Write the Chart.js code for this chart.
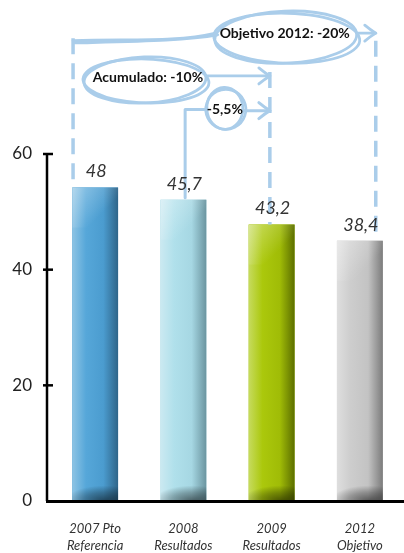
<!DOCTYPE html>
<html>
<head>
<meta charset="utf-8">
<script src="https://cdn.jsdelivr.net/npm/chart.js@4.4.1/dist/chart.umd.min.js"></script>
<style>
  body { margin: 0; background: #fff; }
</style>
</head>
<body>
<canvas id="myChart" width="404" height="553"></canvas>
<script>
// data
const categories = [['2007 Pto', 'Referencia'], ['2008', 'Resultados'], ['2009', 'Resultados'], ['2012', 'Objetivo']];
const barHeights = [54.2, 52.1, 47.8, 45.0];      // bar tops as drawn (not to scale with labels)
const valueLabels = ['48', '45,7', '43,2', '38,4'];
const yTicks = [0, 20, 40, 60];
const calloutTexts = ['Objetivo 2012: -20%', 'Acumulado: -10%', '-5,5%'];

// left, light, mid, dark edge
const barShades = [
  ['#8ec4e4', '#56a7d9', '#4b9ccf', '#2f6589'],
  ['#cbe9f1', '#b0e0eb', '#a6d7e3', '#6b95a0'],
  ['#c6db5e', '#abc80c', '#a0bc06', '#5c6f00'],
  ['#dedede', '#cdcdcd', '#c3c3c3', '#7c7c7c']
];
const sketchBlue = '#aacdea';

function dashedLine(ctx, x, y1, y2) {
  ctx.save();
  ctx.setLineDash([16, 9]);
  ctx.lineCap = 'butt';
  ctx.lineWidth = 3.5;
  ctx.beginPath();
  ctx.moveTo(x, y1);
  ctx.lineTo(x, y2);
  ctx.stroke();
  ctx.restore();
}

function arrowHead(ctx, x, y) {
  ctx.beginPath();
  ctx.moveTo(x - 11, y - 8);
  ctx.quadraticCurveTo(x - 5, y - 3, x, y);
  ctx.quadraticCurveTo(x - 5, y + 3, x - 11, y + 8);
  ctx.stroke();
}

// hand drawn look: two loose passes
function sketchEllipse(ctx, cx, cy, rx, ry) {
  ctx.beginPath();
  ctx.ellipse(cx, cy, rx, ry, -0.04, 0, Math.PI * 2);
  ctx.stroke();
  ctx.beginPath();
  ctx.ellipse(cx + 1, cy + 1, rx + 2, ry - 1, 0.03, 0.3, Math.PI * 2.15);
  ctx.stroke();
}

const barStyle = {
  id: 'barStyle',
  afterDatasetsDraw(chart) {
    const ctx = chart.ctx;
    const bars = chart.getDatasetMeta(0).data;
    bars.forEach((el, i) => {
      const l = el.x - el.width / 2, r = el.x + el.width / 2, t = el.y, b = el.base;
      const s = barShades[i];
      let g = ctx.createLinearGradient(l, 0, r, 0);
      g.addColorStop(0, s[0]);
      g.addColorStop(0.3, s[1]);
      g.addColorStop(0.68, s[2]);
      g.addColorStop(1, s[3]);
      ctx.fillStyle = g;
      ctx.fillRect(l, t, r - l, b - t);

      ctx.save();
      ctx.beginPath();
      ctx.rect(l, t, r - l, b - t);
      ctx.clip();
      // highlight top-left
      g = ctx.createLinearGradient(l, t, l + 28, t + 28);
      g.addColorStop(0, 'rgba(255,255,255,0.35)');
      g.addColorStop(1, 'rgba(255,255,255,0)');
      ctx.fillStyle = g;
      ctx.fillRect(l, t, r - l, 40);
      // shadow at the foot
      ctx.translate(el.x + el.width * 0.2, b);
      ctx.scale(1, 0.4);
      g = ctx.createRadialGradient(0, 0, 0, 0, 0, el.width * 0.85);
      g.addColorStop(0, 'rgba(0,0,0,0.55)');
      g.addColorStop(0.55, 'rgba(0,0,0,0.28)');
      g.addColorStop(1, 'rgba(0,0,0,0)');
      ctx.fillStyle = g;
      ctx.fillRect(-el.width * 1.5, -el.width * 2, el.width * 3, el.width * 2);
      ctx.restore();
    });
  }
};

const axesAndNotes = {
  id: 'axesAndNotes',
  afterDraw(chart) {
    const { ctx, chartArea, scales: { x, y } } = chart;
    const bars = chart.getDatasetMeta(0).data;
    const px = v => x.getPixelForValue(v);
    const py = v => y.getPixelForValue(v);

    // axes
    const ax = chartArea.left - 4;
    ctx.save();
    ctx.strokeStyle = '#000';
    ctx.lineWidth = 2.5;
    ctx.beginPath();
    ctx.moveTo(ax, py(60) - 1);
    ctx.lineTo(ax, py(0));
    ctx.stroke();
    yTicks.forEach(v => {
      if (v === 0) return;
      ctx.beginPath();
      ctx.moveTo(ax - 4, py(v));
      ctx.lineTo(ax + 6, py(v));
      ctx.stroke();
    });
    ctx.lineWidth = 3;
    ctx.beginPath();
    ctx.moveTo(ax - 1, py(0) + 0.5);
    ctx.lineTo(chart.width, py(0) + 0.5);
    ctx.stroke();
    ctx.restore();

    // sketched notes
    ctx.save();
    ctx.strokeStyle = sketchBlue;
    ctx.lineCap = 'round';
    ctx.lineJoin = 'round';

    const x1 = px(-0.25), x2 = px(1.02), x3 = px(1.98), x4 = px(3.18);
    dashedLine(ctx, x1, py(80), bars[0].y);
    dashedLine(ctx, x3, py(74.2), bars[2].y);
    dashedLine(ctx, x4, py(79.6), bars[3].y);

    ctx.lineWidth = 2.8;
    // Objetivo 2012
    const oc = px(2.16), oy = py(80.2);
    sketchEllipse(ctx, oc, oy, 71, 26);
    ctx.beginPath();
    ctx.moveTo(x1, py(79.6));
    ctx.bezierCurveTo(x1 + 60, py(79.9), oc - 110, py(79.3), oc - 70, py(80.9));
    ctx.stroke();
    ctx.beginPath();
    ctx.moveTo(x1 + 2, py(79.2));
    ctx.bezierCurveTo(x1 + 70, py(79.5), oc - 100, py(79.6), oc - 68, py(80.6));
    ctx.stroke();
    ctx.beginPath();
    ctx.moveTo(oc + 71, py(80.9));
    ctx.lineTo(x4, py(80.9));
    ctx.stroke();
    arrowHead(ctx, x4, py(80.9));

    // Acumulado
    const ac = px(0.565), ay = py(72.8);
    sketchEllipse(ctx, ac, ay, 61, 23);
    ctx.beginPath();
    ctx.moveTo(ac + 61, py(73.5));
    ctx.lineTo(x3, py(73.5));
    ctx.stroke();
    arrowHead(ctx, x3, py(73.5));

    // -5,5%
    const cc = px(1.47), cy = py(67.9);
    ctx.lineWidth = 3;
    ctx.beginPath();
    ctx.moveTo(x2, bars[1].y - 2);
    ctx.lineTo(x2, py(67.7));
    ctx.lineTo(cc - 18, py(67.7));
    ctx.stroke();
    ctx.lineWidth = 2.8;
    sketchEllipse(ctx, cc, cy, 18, 21);
    ctx.lineWidth = 3;
    ctx.beginPath();
    ctx.moveTo(cc + 18, py(67.5));
    ctx.lineTo(x3, py(67.5));
    ctx.stroke();
    arrowHead(ctx, x3, py(67.5));
    ctx.restore();

    // value labels
    ctx.save();
    ctx.fillStyle = '#333';
    ctx.font = 'italic 18px Lato';
    ctx.textAlign = 'center';
    ctx.textBaseline = 'middle';
    bars.forEach((el, i) => ctx.fillText(valueLabels[i], el.x + 1, el.y - 16));

    // callout texts
    ctx.fillStyle = '#111';
    ctx.font = 'bold 14px Lato';
    ctx.fillText(calloutTexts[0], oc - 1, py(80.9));
    ctx.fillText(calloutTexts[1], ac + 3, py(73.2));
    ctx.fillText(calloutTexts[2], cc, py(67.7));
    ctx.restore();
  }
};

const ctx = document.getElementById('myChart').getContext('2d');
const myChart = new Chart(ctx, {
  type: 'bar',
  data: {
    labels: categories,
    datasets: [{
      data: barHeights,
      backgroundColor: barShades.map(s => s[2]),
      barPercentage: 0.52,
      categoryPercentage: 1
    }]
  },
  options: {
    responsive: false,
    animation: false,
    layout: { padding: { top: 154, left: 0, right: 0, bottom: 0 } },
    plugins: {
      legend: { display: false },
      tooltip: { enabled: false }
    },
    scales: {
      x: {
        grid: { display: false, drawTicks: false },
        border: { display: false },
        ticks: {
          color: '#333',
          padding: 19,
          maxRotation: 0,
          font: { family: 'Lato', style: 'italic', size: 13, lineHeight: 1.3 }
        },
        afterFit: s => { s.height = 52; }
      },
      y: {
        min: 0,
        max: 60,
        afterBuildTicks: s => { s.ticks = yTicks.map(v => ({ value: v })); },
        grid: { display: false, drawTicks: false },
        border: { display: false },
        ticks: {
          color: '#222',
          padding: 19,
          font: { family: 'Lato', size: 17 }
        },
        afterFit: s => { s.width = 51; }
      }
    }
  },
  plugins: [barStyle, axesAndNotes]
});
</script>
</body>
</html>
